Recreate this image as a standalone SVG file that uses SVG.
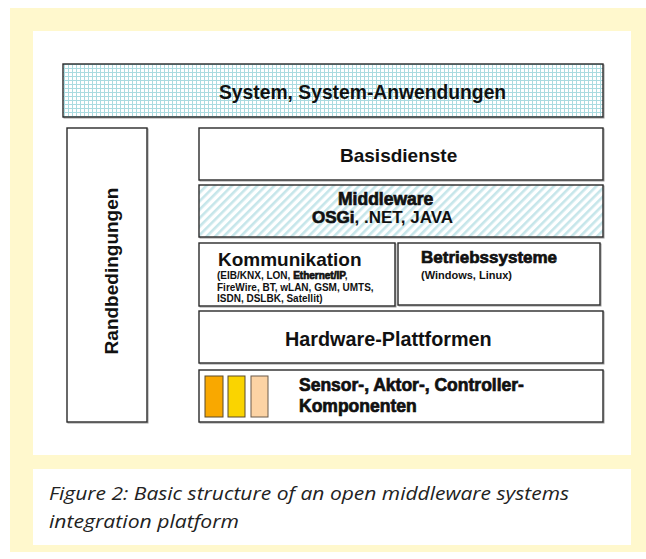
<svg xmlns="http://www.w3.org/2000/svg" width="646" height="559" viewBox="0 0 646 559">
<style>
.box{fill:#fff;stroke:#2a2a2a;stroke-width:1.4}
.sh{fill:none;stroke:#9a9a9a;stroke-width:1}
.t{font-family:"Liberation Sans",Arial,sans-serif;font-weight:bold;fill:#111}
.xb{stroke:#111;stroke-width:0.7}
.cap{font-family:"Open Sans","Liberation Sans",sans-serif;font-style:italic;font-size:18px;fill:#222}
</style>
<defs>
<pattern id="grid" width="4" height="4" patternUnits="userSpaceOnUse">
<rect width="4" height="4" fill="#fff"/>
<path d="M0 0.5H4M0.5 0V4" stroke="#aadbe0" stroke-width="1"/>
</pattern>
<pattern id="hatch" width="6" height="6" patternUnits="userSpaceOnUse" patternTransform="rotate(45)">
<rect width="6" height="6" fill="#fff"/>
<rect x="0" y="0" width="2.6" height="6" fill="#c6e6ea"/>
</pattern>
</defs>
<rect x="10" y="8" width="636" height="544" fill="#fff8cd"/>
<rect x="33" y="31" width="598" height="424" fill="#fff"/>
<rect x="33" y="469" width="598" height="76" fill="#fff"/>

<g id="system">
<rect x="64" y="65" width="540" height="53" class="sh"/>
<rect x="63" y="64" width="540" height="53" class="box" style="fill:url(#grid)"/>
<text x="219" y="99" class="t" font-size="19.3">System, System-Anwendungen</text>
</g>
<g id="randbedingungen">
<rect x="68" y="129" width="80" height="294" class="sh"/>
<rect x="67" y="128" width="80" height="294" class="box"/>
<text transform="translate(118,271) rotate(-90)" text-anchor="middle" class="t" font-size="19">Randbedingungen</text>
</g>
<g id="basisdienste">
<rect x="200" y="129" width="404" height="52" class="sh"/>
<rect x="199" y="128" width="404" height="52" class="box"/>
<text x="340" y="162" class="t" font-size="19">Basisdienste</text>
</g>
<g id="middleware">
<rect x="200" y="186" width="404" height="52" class="sh"/>
<rect x="199" y="185" width="404" height="52" class="box" style="fill:url(#hatch)"/>
<text x="338" y="205" class="t xb" font-size="17.5">Middleware</text>
<text x="312" y="223" class="t" font-size="17"><tspan class="xb">OSGi</tspan>, .NET, JAVA</text>
</g>
<g id="kommunikation">
<rect x="200" y="244" width="196" height="63" class="sh"/>
<rect x="199" y="243" width="196" height="63" class="box"/>
<text x="218" y="266" class="t" font-size="19">Kommunikation</text>
<text class="t" font-size="10"><tspan x="217" y="279">(EIB/KNX, LON, <tspan class="xb" stroke-width="0.5">Ethernet/IP</tspan>,</tspan><tspan x="217" y="291">FireWire, BT, wLAN, GSM, UMTS,</tspan><tspan x="217" y="302">ISDN, DSLBK, Satellit)</tspan></text>
</g>
<g id="betriebssysteme">
<rect x="399" y="244" width="202" height="62" class="sh"/>
<rect x="398" y="243" width="202" height="62" class="box"/>
<text x="421" y="263" class="t xb" font-size="17">Betriebssysteme</text>
<text x="421" y="279" class="t" font-size="11">(Windows, Linux)</text>
</g>
<g id="hardware">
<rect x="200" y="312" width="404" height="52" class="sh"/>
<rect x="199" y="311" width="404" height="52" class="box"/>
<text x="285" y="346" class="t" font-size="19.8">Hardware-Plattformen</text>
</g>
<g id="sensor">
<rect x="200" y="371" width="404" height="52" class="sh"/>
<rect x="199" y="370" width="404" height="52" class="box"/>
<rect x="205" y="376" width="18" height="41" fill="#f9a800" stroke="#5a4a2a" stroke-width="1"/>
<rect x="228" y="376" width="17" height="41" fill="#fad400" stroke="#5a4a2a" stroke-width="1"/>
<rect x="251" y="376" width="17" height="41" fill="#fcd3a4" stroke="#6a5a4a" stroke-width="1"/>
<text class="t xb" font-size="17.5"><tspan x="299" y="391">Sensor-, Aktor-, Controller-</tspan><tspan x="299" y="412">Komponenten</tspan></text>
</g>
<g id="connectors"></g>
<g id="caption">
<text x="49" y="500" class="cap" textLength="520" lengthAdjust="spacingAndGlyphs">Figure 2: Basic structure of an open middleware systems</text>
<text x="49" y="528" class="cap" textLength="190" lengthAdjust="spacingAndGlyphs">integration platform</text>
</g>
</svg>
